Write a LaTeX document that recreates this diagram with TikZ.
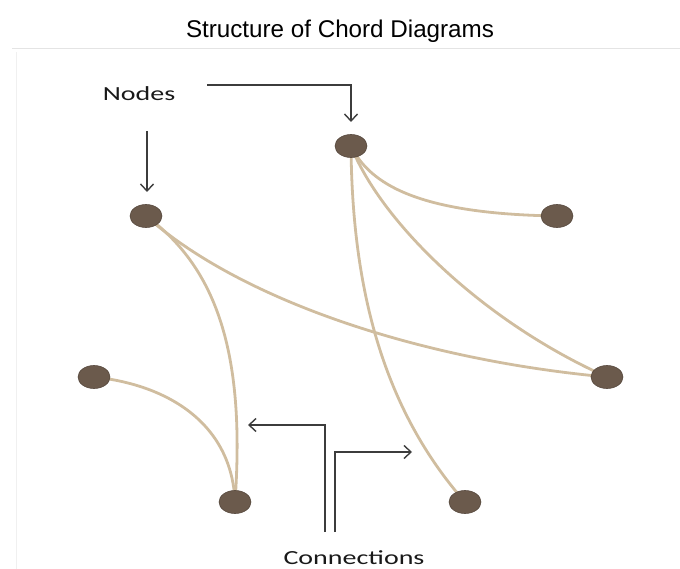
\documentclass[tikz,border=0pt]{standalone}
\usepackage{fontspec}
\setmainfont{Liberation Sans}
\newfontfamily\calib{Carlito}
\usetikzlibrary{arrows.meta,backgrounds,shapes.geometric}
\definecolor{nodebrown}{HTML}{6B5A4C}
\definecolor{chordtan}{HTML}{D0BD9F}
\definecolor{pointer}{HTML}{3C3C3C}
\definecolor{framegray}{HTML}{E4E4E4}
\begin{document}
\begin{tikzpicture}[x=1pt,y=1pt,
  dot/.style={ellipse,draw=nodebrown!80!black,line width=0.6pt,fill=nodebrown,minimum width=32pt,minimum height=23pt,inner sep=0pt},
  chord/.style={draw=chordtan,line width=2.8pt},
  pointer/.style={draw=pointer,line width=1.5pt,-{Straight Barb[length=7pt,width=13pt,line width=1.4pt]}},
  label/.style={font=\calib\fontsize{20}{24}\selectfont,text=black!90,inner sep=0pt}]
\useasboundingbox (0,0) rectangle (680,-569);
% frame
\draw[framegray,line width=1pt] (12,-49) -- (680,-49);
\draw[black!6,line width=0.8pt] (16,-52) -- (16,-569);
% title
\node[font=\fontsize{24.2}{29}\selectfont,inner sep=0pt] (title) at (340,-31) {Structure of Chord Diagrams};
% nodes
\node[dot] (A) at (351,-146) {};
\node[dot] (B) at (146,-216) {};
\node[dot] (C) at (557,-216) {};
\node[dot] (D) at (94,-377) {};
\node[dot] (E) at (607,-377) {};
\node[dot] (F) at (235,-502) {};
\node[dot] (G) at (465,-502) {};
% chords
\begin{scope}[on background layer]
\draw[chord] (A.center) .. controls (370,-185) and (420,-214) .. (C.center);
\draw[chord] (A.center) .. controls (380,-220) and (480,-320) .. (E.center);
\draw[chord] (A.center) .. controls (352,-270) and (375,-400) .. (G.center);
\draw[chord] (B.center) .. controls (240,-300) and (420,-360) .. (E.center);
\draw[chord] (B.center) .. controls (220,-270) and (245,-360) .. (F.center);
\draw[chord] (D.center) .. controls (170,-385) and (232,-425) .. (F.center);
\end{scope}
% labels
\node[label] (nodes) at (139,-94) {\scalebox{1.4}[1]{Nodes}};
\node[label] (conn) at (354,-558) {\scalebox{1.4}[1]{Connections}};
% pointers
\coordinate (n1s) at (147,-131);
\coordinate (n1e) at (147,-192);
\coordinate (n2s) at (207,-85);
\coordinate (n2k) at (351,-85);
\coordinate (n2e) at (351,-122);
\coordinate (c1s) at (325,-532);
\coordinate (c1k) at (325,-425);
\coordinate (c1e) at (248,-425);
\coordinate (c2s) at (335,-532);
\coordinate (c2k) at (335,-452);
\coordinate (c2e) at (412,-452);
\draw[pointer] (n1s) -- (n1e);
\draw[pointer] (n2s) -- (n2k) -- (n2e);
\draw[pointer] (c1s) -- (c1k) -- (c1e);
\draw[pointer] (c2s) -- (c2k) -- (c2e);
\end{tikzpicture}
\end{document}
